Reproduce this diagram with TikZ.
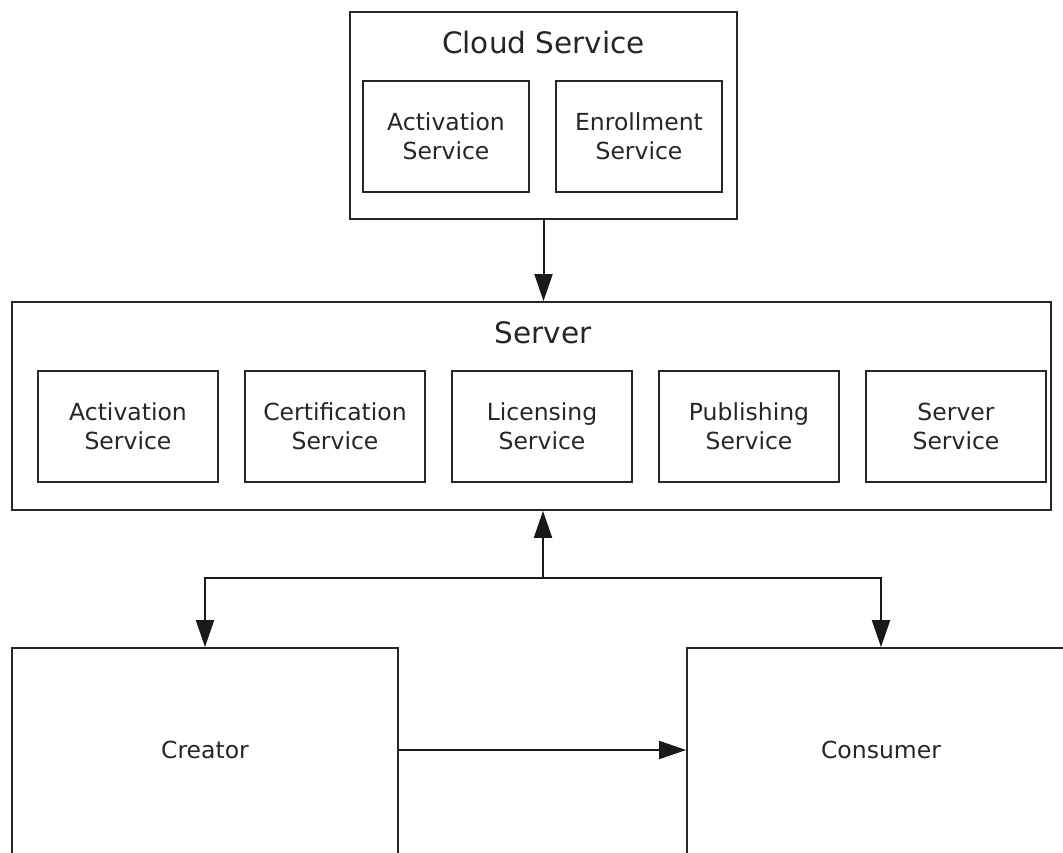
\documentclass[tikz,border=0pt]{standalone}
\usepackage{fontspec}
\setmainfont{DejaVu Sans}
\usetikzlibrary{arrows.meta}
\begin{document}
\begin{tikzpicture}[x=1pt,y=-1pt,
  box/.style={draw=black!85, line width=1.8pt, rectangle, inner sep=0pt, align=center,
    text=black!85, font=\fontsize{23.5}{29}\selectfont},
  title/.style={inner sep=0pt, text=black!85, font=\fontsize{29.5}{35}\selectfont},
  label/.style={inner sep=0pt, text=black!85, font=\fontsize{23.5}{29}\selectfont},
  arr/.style={draw=black!90, line width=2pt, -{Triangle[length=27pt,width=18pt]}}]
\useasboundingbox (0,0) rectangle (1063,852);
\clip (0,0) rectangle (1063,852);
\fill[white] (0,0) rectangle (1063,852);

% Cloud service
\node[box, minimum width=387pt, minimum height=207pt] (cloud) at (543.5,115.5) {};
\node[title] (cloudt) at (543.5,42) {Cloud Service};
\node[box, minimum width=166pt, minimum height=111pt] (cact) at (446,136.5) {Activation\\Service};
\node[box, minimum width=166pt, minimum height=111pt] (cenr) at (639,136.5) {Enrollment\\Service};

% Server
\node[box, minimum width=1039pt, minimum height=208pt] (server) at (531.5,406) {};
\node[title] (servert) at (543,333) {Server};
\node[box, minimum width=180pt, minimum height=111pt] (sact) at (128,426.5) {Activation\\Service};
\node[box, minimum width=180pt, minimum height=111pt] (scert) at (335,426.5) {Certification\\Service};
\node[box, minimum width=180pt, minimum height=111pt] (slic) at (542,426.5) {Licensing\\Service};
\node[box, minimum width=180pt, minimum height=111pt] (spub) at (749,426.5) {Publishing\\Service};
\node[box, minimum width=180pt, minimum height=111pt] (ssrv) at (956,426.5) {Server\\Service};

% Creator / Consumer
\node[box, minimum width=386pt, minimum height=300pt] (creator) at (205,798) {};
\node[label] (creatort) at (205,750) {Creator};
\node[box, minimum width=388pt, minimum height=300pt] (consumer) at (881,798) {};
\node[label] (consumert) at (881,750) {Consumer};

% Connectors
\draw[arr] (cloud.south) -- (cloud.south |- server.north);
\coordinate (j) at (543,578);
\draw[arr] (j) -- (j |- server.south);
\draw[arr] (j) -| (creator.north);
\draw[arr] (j) -| (consumer.north);
\draw[arr] (creatort -| creator.east) -- (creatort -| consumer.west);
\end{tikzpicture}
\end{document}
